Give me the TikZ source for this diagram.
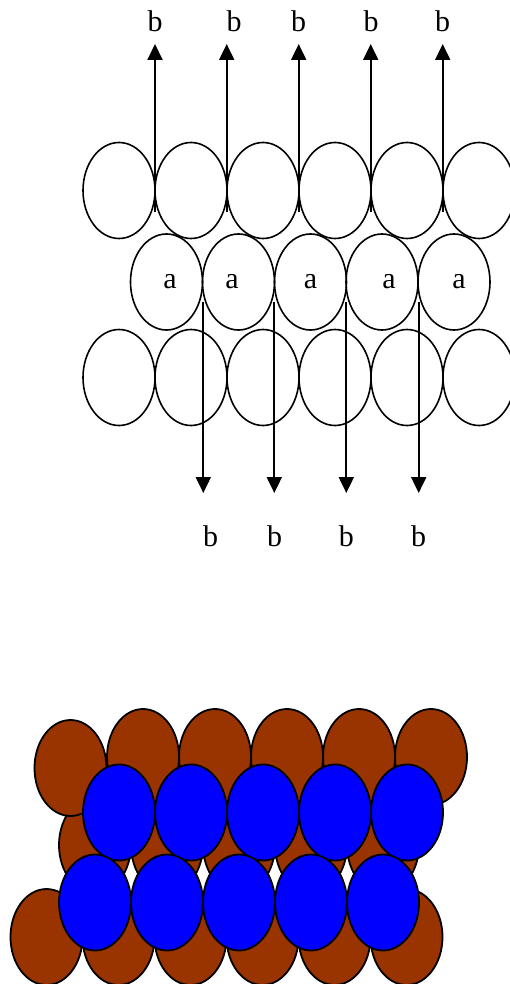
\documentclass[tikz,border=0pt]{standalone}
\usepackage{fontspec}
\setmainfont{Liberation Serif}
\usetikzlibrary{arrows.meta,shapes.geometric}
\definecolor{rust}{HTML}{993300}
\tikzset{ball/.style={draw,ellipse,minimum width=72pt,minimum height=96pt,inner sep=0pt},
  lab/.style={font=\fontsize{30}{32}\selectfont,inner sep=0pt},
  arr/.style={->,line width=2pt}}

\begin{document}
\begin{tikzpicture}[x=1pt,y=-1pt,line width=1.6pt,>={Triangle[length=16pt,width=15pt]}]
\useasboundingbox (0,0) rectangle (509,984);
% open layers
\foreach \i/\x in {1/119,2/191,3/263,4/335,5/407,6/479}{
  \node[ball] (u\i) at (\x,190.5) {};
  \node[ball] (d\i) at (\x,377.5) {};
}
\foreach \i/\x/\t in {1/166.5/170,2/238.5/232,3/310.5/310.5,4/382/389,5/454/459}{
  \node[ball] (m\i) at (\x,282) {};
  \node[lab] (la\i) at (\t,282) {a};
}
% arrows out of the layers
\foreach \i/\x/\t in {1/155/155,2/226.7/234,3/298.7/298.7,4/370.7/371,5/442.7/442.7}{
  \coordinate (us\i) at (\x,212);
  \coordinate (ue\i) at (\x,44);
  \draw[arr] (us\i)--(ue\i);
  \node[lab] (lu\i) at (\t,21) {b};
}
\foreach \i/\x/\t in {1/203.3/210.7,2/274.3/274.7,3/346.3/346.3,4/418.7/418.7}{
  \coordinate (ds\i) at (\x,302);
  \coordinate (de\i) at (\x,493);
  \draw[arr] (ds\i)--(de\i);
  \node[lab] (ld\i) at (\t,536) {b};
}
% filled stack
\begin{scope}[line width=1.8pt]
\foreach \i/\x in {1/95,2/167,3/239,4/311,5/383}
  \node[ball,fill=rust] (bm\i) at (\x,845) {};
\node[ball,fill=rust] (bt1) at (70.5,768) {};
\foreach \i/\x in {2/143,3/215,4/287,5/359,6/431}
  \node[ball,fill=rust] (bt\i) at (\x,757) {};
\foreach \i/\x in {1/46.5,2/118.5,3/190.5,4/262.5,5/334.5,6/406.5}
  \node[ball,fill=rust] (bb\i) at (\x,937) {};
\foreach \i/\x in {1/119,2/191,3/263,4/335,5/407}
  \node[ball,fill=blue] (ct\i) at (\x,812.5) {};
\foreach \i/\x in {1/95,2/167,3/239,4/311,5/383}
  \node[ball,fill=blue] (cb\i) at (\x,902.5) {};
\end{scope}
\end{tikzpicture}
\end{document}
